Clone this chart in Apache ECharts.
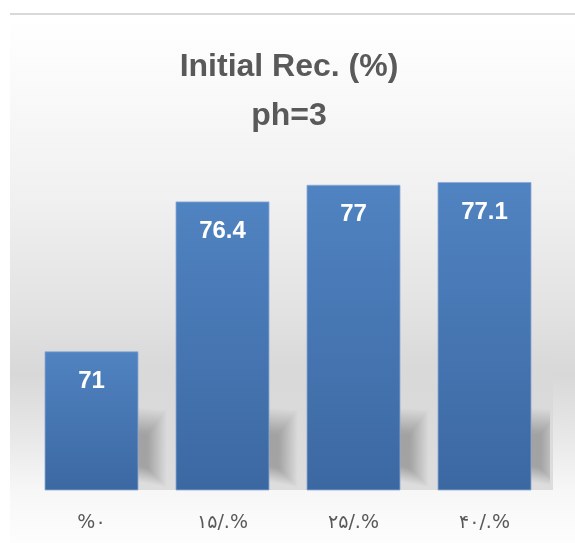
<!DOCTYPE html>
<html>
<head>
<meta charset="utf-8">
<title>Initial Rec. (%) ph=3</title>
<script src="https://cdn.jsdelivr.net/npm/echarts@6/dist/echarts.min.js"></script>
<style>
  html, body { margin: 0; padding: 0; background: #ffffff; }
  #chart { width: 575px; height: 543px; }
</style>
</head>
<body>
<div id="chart"></div>
<script>
// Additive dosage levels (Persian numerals) and the matching initial recovery
const categories = ['%۰', '۱۵/.%', '۲۵/.%', '۴۰/.%'];
const recovery = [71, 76.4, 77, 77.1];
const yMin = 66;
const yMax = 78;

const chart = echarts.init(document.getElementById('chart'), null, { renderer: 'canvas' });

const gridBox = { left: 26, top: 157, width: 524, height: 333 };

// soft shadow behind the foot of a bar, built from stacked translucent layers
function footShadow(base, half) {
  const layers = [];
  const n = 20;
  for (let i = 0; i < n; i++) {
    const s = i;
    const xl = base[0] - half + 10;
    const xr = base[0] + half + 28 - s;
    layers.push({
      type: 'polygon',
      shape: {
        points: [
          [xl, base[1] - 88 + s * 1.3],
          [xr, base[1] - 80 + s * 1.3],
          [xr, base[1] - 3 - s],
          [xl, base[1] - 24 - s]
        ]
      },
      style: { fill: 'rgba(0,0,0,0.0105)' }
    });
  }
  return layers;
}

chart.setOption({
  animation: false,
  backgroundColor: '#ffffff',
  graphic: [
    {
      // chart panel with soft vertical shading
      type: 'rect',
      z: -10,
      silent: true,
      shape: { x: 10, y: 15, width: 565, height: 528 },
      style: {
        fill: {
          type: 'linear', x: 0, y: 0, x2: 0, y2: 1,
          colorStops: [
            { offset: 0, color: '#ffffff' },
            { offset: 0.08, color: '#fcfcfc' },
            { offset: 0.35, color: '#f0f0f0' },
            { offset: 0.55, color: '#e3e3e3' },
            { offset: 0.68, color: '#d8d8d8' },
            { offset: 0.8, color: '#e8e8e8' },
            { offset: 0.9, color: '#f7f7f7' },
            { offset: 1, color: '#fdfdfd' }
          ]
        }
      }
    },
    {
      // plot wall keeps its grey down to the baseline
      type: 'rect',
      z: -9,
      silent: true,
      shape: { x: 45, y: 340, width: 508, height: 150 },
      style: {
        fill: {
          type: 'linear', x: 0, y: 0, x2: 0, y2: 1,
          colorStops: [
            { offset: 0, color: 'rgba(218,218,218,0)' },
            { offset: 0.3, color: 'rgba(217,217,217,1)' },
            { offset: 1, color: 'rgba(221,221,221,1)' }
          ]
        }
      }
    },
    {
      // thin rule along the top edge of the panel
      type: 'line',
      z: -8,
      silent: true,
      shape: { x1: 10, y1: 14, x2: 575, y2: 14 },
      style: { stroke: '#d9d9d9', lineWidth: 2 }
    }
  ],
  title: {
    text: 'Initial Rec. (%)\nph=3',
    left: 284,
    top: 37,
    textAlign: 'center',
    textStyle: {
      fontFamily: 'Liberation Sans',
      fontWeight: 'bold',
      fontSize: 32,
      lineHeight: 49.5,
      color: '#595959'
    }
  },
  grid: gridBox,
  xAxis: {
    type: 'category',
    data: categories,
    axisLine: { show: false },
    axisTick: { show: false },
    axisLabel: {
      fontFamily: 'DejaVu Sans',
      fontSize: 19,
      color: '#595959',
      margin: 24
    }
  },
  yAxis: {
    type: 'value',
    min: yMin,
    max: yMax,
    show: false,
    splitLine: { show: false }
  },
  series: [
    {
      type: 'custom',
      z: 1,
      silent: true,
      clip: true,
      data: recovery.map((v, i) => [i, v]),
      renderItem: function (params, api) {
        const base = api.coord([api.value(0), yMin]);
        return { type: 'group', children: footShadow(base, 47) };
      }
    },
    {
      type: 'bar',
      z: 2,
      data: recovery,
      barWidth: 94,
      itemStyle: {
        color: {
          type: 'linear', x: 0, y: 0, x2: 0, y2: 1,
          colorStops: [
            { offset: 0, color: '#5083c1' },
            { offset: 1, color: '#3c68a2' }
          ]
        },
        borderColor: 'rgba(140,170,215,0.8)',
        borderWidth: 1
      },
      label: {
        show: true,
        position: 'insideTop',
        distance: 18,
        fontFamily: 'Liberation Sans',
        fontWeight: 'bold',
        fontSize: 24,
        color: '#ffffff'
      }
    }
  ]
});
</script>
</body>
</html>
